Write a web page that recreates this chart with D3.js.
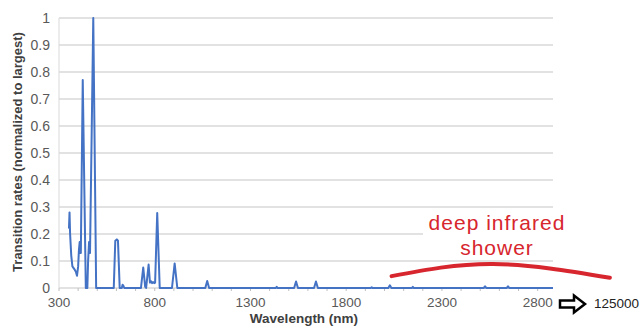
<!DOCTYPE html>
<html>
<head>
<meta charset="utf-8">
<script src="https://cdn.jsdelivr.net/npm/d3@7"></script>
<style>
  body { margin: 0; background: #fff; }
  svg { display: block; }
  .tick-label { font-family: "Liberation Sans", Arial, sans-serif; fill: #595959; }
</style>
</head>
<body>
<div id="chart"></div>
<script>
// Emission spectrum
const wavelengths = [
  352, 355, 358, 364, 370, 380, 388, 394, 400, 404, 408, 411, 414, 424, 440,
  448, 452, 457, 462, 479, 494,
  586, 594, 602, 608, 617, 628, 632, 636, 641,
  728, 740, 750, 755, 768, 775, 781, 786, 791, 797, 802, 813, 826,
  890, 904, 918,
  1064, 1074, 1084,
  1432, 1437, 1442,
  1528, 1538, 1548, 1632, 1642, 1652,
  1928, 1933, 1938, 2020, 2028, 2036, 2143, 2148, 2153,
  2518, 2525, 2532, 2638, 2645, 2652, 2880
];
const rates = [
  0.22, 0.28, 0.20, 0.12, 0.08, 0.07, 0.06, 0.045, 0.08, 0.14, 0.17, 0.13, 0.13, 0.77, 0,
  0, 0.10, 0.17, 0.13, 1.0, 0,
  0, 0.175, 0.18, 0.175, 0, 0, 0.012, 0.009, 0,
  0, 0.076, 0.005, 0, 0.087, 0.02, 0.025, 0.018, 0.022, 0.018, 0.02, 0.278, 0,
  0, 0.091, 0,
  0, 0.026, 0,
  0, 0.004, 0,
  0, 0.024, 0, 0, 0.024, 0,
  0, 0.003, 0, 0, 0.01, 0, 0, 0.004, 0,
  0, 0.006, 0, 0, 0.006, 0, 0
];

const xTicks = [300, 800, 1300, 1800, 2300, 2800];
const yTicks = [0, 0.1, 0.2, 0.3, 0.4, 0.5, 0.6, 0.7, 0.8, 0.9, 1];

// hand drawn "deep infrared shower" arc
const showerX = [2037, 2566, 3177];
const showerY = [0.044, 0.089, 0.038];
const noteLines = ['deep infrared', 'shower'];

const width = 644, height = 328;
const margin = { top: 18, right: 91, bottom: 40, left: 59 };
const plotW = width - margin.left - margin.right;
const plotH = height - margin.top - margin.bottom;

const svg = d3.select('#chart').append('svg')
    .attr('width', width)
    .attr('height', height);

const g = svg.append('g')
    .attr('transform', `translate(${margin.left},${margin.top})`);

const x = d3.scaleLinear().domain([300, 2880]).range([0, plotW]);
const y = d3.scaleLinear().domain([0, 1]).range([plotH, 0]);

// gridlines
g.selectAll('.grid')
    .data(yTicks)
    .join('line')
    .attr('class', 'grid')
    .attr('x1', 0)
    .attr('x2', plotW)
    .attr('y1', d => y(d))
    .attr('y2', d => y(d))
    .attr('stroke', '#d9d9d9')
    .attr('stroke-width', 1.5);

// left axis line
g.append('line')
    .attr('x1', 0).attr('x2', 0)
    .attr('y1', 0).attr('y2', plotH)
    .attr('stroke', '#d9d9d9')
    .attr('stroke-width', 1);

// small tick marks every 100 nm
g.selectAll('.minor')
    .data(d3.range(300, 2801, 100))
    .join('line')
    .attr('class', 'minor')
    .attr('x1', d => x(d)).attr('x2', d => x(d))
    .attr('y1', plotH).attr('y2', plotH + 3)
    .attr('stroke', '#bfbfbf');

// y tick labels
g.selectAll('.ylab')
    .data(yTicks)
    .join('text')
    .attr('class', 'tick-label')
    .attr('x', -9)
    .attr('y', d => y(d))
    .attr('dy', '0.35em')
    .attr('text-anchor', 'end')
    .style('font-size', '14px')
    .text(d => d3.format('~g')(d));

// x tick labels
g.selectAll('.xlab')
    .data(xTicks)
    .join('text')
    .attr('class', 'tick-label')
    .attr('x', d => x(d))
    .attr('y', plotH + 19)
    .attr('text-anchor', 'middle')
    .style('font-size', '13.5px')
    .text(d => d);

// spectrum
const line = d3.line()
    .x((d, i) => x(wavelengths[i]))
    .y(d => y(d));

g.append('path')
    .datum(rates)
    .attr('fill', 'none')
    .attr('stroke', '#4472c4')
    .attr('stroke-width', 2)
    .attr('stroke-linejoin', 'round')
    .attr('d', line);

// axis titles
svg.append('text')
    .attr('x', 304)
    .attr('y', 323)
    .attr('text-anchor', 'middle')
    .style('font-family', '"Liberation Sans", Arial, sans-serif')
    .style('font-weight', 'bold')
    .style('font-size', '13.5px')
    .attr('fill', '#404040')
    .text('Wavelength (nm)');

svg.append('text')
    .attr('transform', 'translate(17,152) rotate(-90)')
    .attr('text-anchor', 'middle')
    .attr('dy', '0.35em')
    .style('font-family', '"Liberation Sans", Arial, sans-serif')
    .style('font-weight', 'bold')
    .style('font-size', '13px')
    .attr('fill', '#404040')
    .text('Transition rates (normalized to largest)');

// annotation: text box covers the gridline behind it
svg.append('rect')
    .attr('x', 423).attr('y', 212)
    .attr('width', 150).attr('height', 45)
    .attr('fill', '#fff');

const red = '#d7262d';
svg.selectAll('.note')
    .data(noteLines)
    .join('text')
    .attr('class', 'note')
    .attr('x', 497)
    .attr('y', (d, i) => 230 + i * 24.5)
    .attr('text-anchor', 'middle')
    .style('font-family', '"Liberation Sans", Arial, sans-serif')
    .style('font-size', '21px')
    .style('letter-spacing', '1px')
    .attr('fill', red)
    .text(d => d);

const arc = d3.line()
    .x((d, i) => x(showerX[i]))
    .y(d => y(d))
    .curve(d3.curveNatural);

g.append('path')
    .datum(showerY)
    .attr('fill', 'none')
    .attr('stroke', red)
    .attr('stroke-width', 4)
    .attr('stroke-linecap', 'round')
    .attr('d', arc);

// continuation arrow to the far end of the range
const ax = 560, ay = 304;
svg.append('path')
    .attr('d', `M${ax},${ay - 3.5} h14 v-5 l11,8.5 l-11,8.5 v-5 h-14 Z`)
    .attr('fill', '#fff')
    .attr('stroke', '#000')
    .attr('stroke-width', 2.5)
    .attr('stroke-linejoin', 'miter');

svg.append('text')
    .attr('x', 594)
    .attr('y', 308)
    .style('font-family', '"Liberation Sans", Arial, sans-serif')
    .style('font-size', '13.5px')
    .attr('fill', '#222')
    .text('125000');
</script>
</body>
</html>
